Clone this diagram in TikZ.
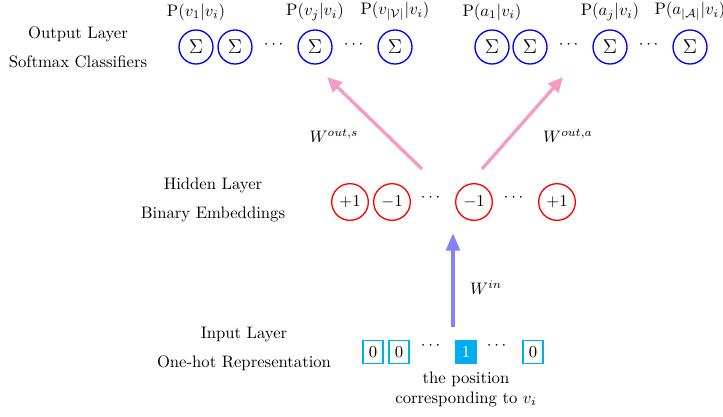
\documentclass[tikz,border=0pt]{standalone}
\usepackage{amsmath}
\usetikzlibrary{arrows.meta,positioning}
\definecolor{softpink}{RGB}{243,156,196}
\definecolor{inblue}{RGB}{130,130,255}
\definecolor{hotcyan}{RGB}{0,174,239}
\tikzset{
 smax/.style={circle,draw=blue,thick,minimum size=20.4pt,inner sep=0pt,font=\large},
 hbit/.style={circle,draw=red,thick,minimum size=22pt,inner sep=0pt},
 onecell/.style={draw=hotcyan,thick,minimum width=12pt,minimum height=14pt,inner sep=0pt},
 plabel/.style={inner sep=2pt,font=\normalsize},
 layername/.style={align=center},
 pinkarrow/.style={draw=softpink,line width=2pt,-{Triangle[width=8pt,length=9pt]}},
 bluearrow/.style={draw=inblue,line width=2.4pt,-{Triangle[width=8pt,length=10.5pt]}}
}
\newcommand{\softmaxunit}[3]{%
 \node[smax] ({#1}) at ({#2}) {$\Sigma$};%
 \node[plabel,above=3pt of {#1}] ({#1p}) {#3};%
}
\newcommand{\embbit}[3]{%
 \node[hbit] ({#1}) at ({#2}) {$#3$};%
}
\newcommand{\hotcell}[3]{%
 \node[onecell] ({#1}) at ({#2}) {#3};%
}
\begin{document}
\begin{tikzpicture}[x=0.6pt,y=-0.6pt]
 \useasboundingbox (0,0) rectangle (723,416);
 % layer names
 \node[layername] (outname) at (78,47) {Output Layer\\[5.5pt]Softmax Classifiers};
 \node[layername] (hidname) at (213,200) {Hidden Layer\\[5.5pt]Binary Embeddings};
 \node[layername] (inname) at (244,349) {Input Layer\\[5.5pt]One-hot Representation};
 % softmax classifiers
 \softmaxunit{s1}{196,47}{P$(v_1|v_i)$};
 \node[smax] (s2) at (235,47) {$\Sigma$};
 \node (sd1) at (275,45) {$\cdots$};
 \softmaxunit{s3}{315,47}{P$(v_j|v_i)$};
 \node (sd2) at (355,45) {$\cdots$};
 \softmaxunit{s4}{395,47}{P$(v_{|\mathcal{V}|}|v_i)$};
 \softmaxunit{a1}{492,47}{P$(a_1|v_i)$};
 \node[smax] (a2) at (530,47) {$\Sigma$};
 \node (ad1) at (570,45) {$\cdots$};
 \softmaxunit{a3}{610,47}{P$(a_j|v_i)$};
 \node (ad2) at (650,45) {$\cdots$};
 \softmaxunit{a4}{690,47}{P$(a_{|\mathcal{A}|}|v_i)$};
 % binary embeddings
 \embbit{h1}{350,202}{+1};
 \embbit{h2}{392,202}{-1};
 \node (hd1) at (432,198) {$\cdots$};
 \embbit{h3}{474,202}{-1};
 \node (hd2) at (515,198) {$\cdots$};
 \embbit{h4}{557,202}{+1};
 % one-hot input
 \hotcell{c1}{373,352}{0};
 \hotcell{c2}{399,352}{0};
 \node (cd1) at (432,346) {$\cdots$};
 \node[onecell,fill=hotcyan,text=white] (c3) at (466,352) {1};
 \node (cd2) at (498,346) {$\cdots$};
 \hotcell{c4}{533,352}{0};
 \node[align=center,below=1pt of c3] (pos) {the position\\corresponding to $v_i$};
 % weights
 \coordinate (inlow) at (453,327);
 \coordinate (inhigh) at (453,233);
 \coordinate (sfoot) at (422,169);
 \coordinate (stip) at (327,77);
 \coordinate (afoot) at (482,169);
 \coordinate (atip) at (563,77);
 \draw[bluearrow] (inlow) -- (inhigh);
 \draw[pinkarrow] (sfoot) -- (stip);
 \draw[pinkarrow] (afoot) -- (atip);
 \node (win) at (486,288) {$W^{in}$};
 \node (wouts) at (334,136) {$W^{out,s}$};
 \node (wouta) at (568,136) {$W^{out,a}$};
\end{tikzpicture}
\end{document}
